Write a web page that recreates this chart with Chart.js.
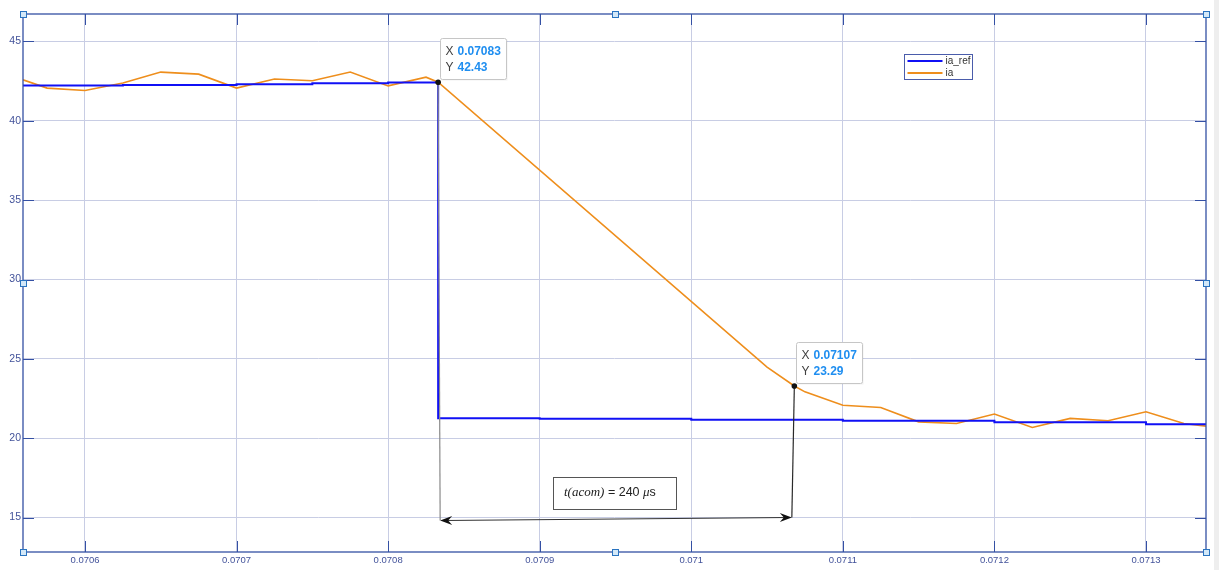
<!DOCTYPE html>
<html>
<head>
<meta charset="utf-8">
<script src="https://cdn.jsdelivr.net/npm/chart.js@4.4.1/dist/chart.umd.min.js"></script>
<style>
  html, body { margin: 0; padding: 0; background: #ffffff; }
  #wrap { position: relative; width: 1219px; height: 570px; }
</style>
</head>
<body>
<div id="wrap"><canvas id="c" width="1219" height="570"></canvas></div>
<script>
// Phase-a current reference (stepped) — time [s], current [A]
const timeRef = [0.0705591, 0.070625, 0.0707, 0.07075, 0.0708, 0.070833, 0.0709, 0.071, 0.0711, 0.0712, 0.0713, 0.0713396];
const iaRef   = [42.22, 42.26, 42.31, 42.36, 42.41, 21.25, 21.22, 21.17, 21.10, 21.00, 20.88, 20.82];

// Measured phase-a current — time [s], current [A]
const timeMeas = [0.0705591, 0.070575, 0.0706, 0.070625, 0.07065, 0.070675, 0.0707, 0.070725, 0.07075, 0.070775,
                  0.0708, 0.070825, 0.070833, 0.07105, 0.071068, 0.071075, 0.0711, 0.071125, 0.07115, 0.071175,
                  0.0712, 0.071225, 0.07125, 0.071275, 0.0713, 0.071325, 0.0713396];
const iaMeas   = [42.58, 42.06, 41.91, 42.38, 43.07, 42.94, 42.06, 42.63, 42.52, 43.07,
                  42.20, 42.75, 42.43, 24.48, 23.29, 22.92, 22.08, 21.94, 21.03, 20.93,
                  21.52, 20.68, 21.25, 21.10, 21.67, 20.93, 20.76];

// Data tips sit on samples of the measured current
const tipIndices = [12, 14];

const seriesNames = ['ia_ref', 'ia'];
const xTickValues = [0.0706, 0.0707, 0.0708, 0.0709, 0.071, 0.0711, 0.0712, 0.0713];
const xTickLabels = ['0.0706', '0.0707', '0.0708', '0.0709', '0.071', '0.0711', '0.0712', '0.0713'];
const yTickValues = [15, 20, 25, 30, 35, 40, 45];
const yTickLabels = ['15', '20', '25', '30', '35', '40', '45'];

const X_MIN = 0.0705591, X_MAX = 0.0713396;
const Y_MIN = 12.83, Y_MAX = 46.73;

const AXIS_COLOR = '#3450a4';
const GRID_COLOR = '#c8cde4';
const TICK_TEXT = '#42529a';
const SANS = '"Liberation Sans", Arial, Helvetica, sans-serif';
const SERIF = '"Liberation Serif", "Times New Roman", serif';

function toPoints(xs, ys) { return xs.map((t, i) => ({ x: t, y: ys[i] })); }

function arrowHead(ctx, tx, ty, dir) {
  const L = 12, W = 4.5, notch = 4;
  ctx.beginPath();
  ctx.moveTo(tx, ty);
  ctx.lineTo(tx - dir * L, ty - W);
  ctx.lineTo(tx - dir * (L - notch), ty);
  ctx.lineTo(tx - dir * L, ty + W);
  ctx.closePath();
  ctx.fill();
}

function seg(ctx, x1, y1, x2, y2) {
  ctx.beginPath(); ctx.moveTo(x1, y1); ctx.lineTo(x2, y2); ctx.stroke();
}

const decor = {
  id: 'decor',
  afterDatasetsDraw(chart) {
    const { ctx, chartArea: a, scales: { x, y } } = chart;
    ctx.save();

    // inward tick marks on all four sides
    ctx.strokeStyle = AXIS_COLOR;
    ctx.lineWidth = 1;
    const tl = 11;
    xTickValues.forEach(v => {
      const px = Math.round(x.getPixelForValue(v)) + 0.5;
      seg(ctx, px, a.bottom, px, a.bottom - tl);
      seg(ctx, px, a.top, px, a.top + tl);
    });
    yTickValues.forEach(v => {
      const py = Math.round(y.getPixelForValue(v)) + 0.5;
      seg(ctx, a.left, py, a.left + tl, py);
      seg(ctx, a.right, py, a.right - tl, py);
    });

    // axes box
    ctx.lineWidth = 1.3;
    ctx.strokeRect(a.left, a.top, a.right - a.left, a.bottom - a.top);

    // commutation interval marker
    const ms = chart.getDatasetMeta(1).data;
    const p1 = ms[tipIndices[0]], p2 = ms[tipIndices[1]];
    const yArrL = 520.5, yArrR = 517.5;
    ctx.lineWidth = 1.2;
    ctx.strokeStyle = '#8a8a8a';
    seg(ctx, p1.x, p1.y, p1.x + 2, yArrL);
    ctx.strokeStyle = '#2a2a2a';
    seg(ctx, p2.x, p2.y, p2.x - 2.5, yArrR);
    ctx.strokeStyle = '#333333';
    seg(ctx, p1.x + 6, yArrL, p2.x - 6, yArrR);
    ctx.fillStyle = '#111111';
    arrowHead(ctx, p1.x + 2, yArrL, -1);
    arrowHead(ctx, p2.x - 2.5, yArrR, 1);

    // annotation text box
    ctx.fillStyle = '#ffffff';
    ctx.fillRect(553.5, 477.5, 123, 32);
    ctx.strokeStyle = '#555555';
    ctx.lineWidth = 1;
    ctx.strokeRect(553.5, 477.5, 123, 32);
    ctx.fillStyle = '#222222';
    ctx.textBaseline = 'alphabetic';
    ctx.textAlign = 'left';
    let tx = 564;
    const by = 496;
    ctx.font = 'italic 13px ' + SERIF;
    const part1 = 't(acom)';
    ctx.fillText(part1, tx, by); tx += ctx.measureText(part1).width;
    ctx.font = '12.5px ' + SANS;
    const part2 = ' = 240 ';
    ctx.fillText(part2, tx, by); tx += ctx.measureText(part2).width;
    ctx.font = 'italic 13px ' + SERIF;
    ctx.fillText('\u03bc', tx, by); tx += ctx.measureText('\u03bc').width;
    ctx.font = '12.5px ' + SANS;
    ctx.fillText('s', tx, by);

    // data tips
    const ds = chart.data.datasets[1].data;
    tipIndices.forEach(idx => {
      const p = ms[idx];
      const bx = Math.round(p.x) + 2.5, bTop = Math.round(p.y) - 43.5, bw = 66, bh = 41;
      ctx.fillStyle = 'rgba(0,0,0,0.06)';
      ctx.fillRect(bx + 1, bTop + 1, bw, bh);
      ctx.fillStyle = '#ffffff';
      ctx.strokeStyle = '#c6c6c6';
      ctx.lineWidth = 1;
      ctx.beginPath();
      ctx.roundRect(bx, bTop, bw, bh, 2);
      ctx.fill(); ctx.stroke();
      ctx.textBaseline = 'middle';
      ctx.font = '12px ' + SANS;
      ctx.fillStyle = '#404040';
      ctx.fillText('X', bx + 5, bTop + 13.5);
      ctx.fillText('Y', bx + 5, bTop + 29.5);
      ctx.font = 'bold 12px ' + SANS;
      ctx.fillStyle = '#1f8ef0';
      ctx.fillText(ds[idx].x.toFixed(5), bx + 17, bTop + 13.5);
      ctx.fillText(ds[idx].y.toFixed(2), bx + 17, bTop + 29.5);
      ctx.fillStyle = '#111111';
      ctx.beginPath(); ctx.arc(p.x, p.y, 2.8, 0, Math.PI * 2); ctx.fill();
    });

    // legend
    const lx = 904.5, ly = 54.5, lw = 68, lh = 25;
    ctx.fillStyle = '#ffffff';
    ctx.fillRect(lx, ly, lw, lh);
    ctx.strokeStyle = '#4a5cab';
    ctx.lineWidth = 1;
    ctx.strokeRect(lx, ly, lw, lh);
    chart.data.datasets.forEach((d, i) => {
      const yy = ly + 6.5 + i * 12;
      ctx.strokeStyle = d.borderColor;
      ctx.lineWidth = 2;
      seg(ctx, lx + 3, yy, lx + 38, yy);
      ctx.fillStyle = '#333333';
      ctx.font = '10px ' + SANS;
      ctx.textBaseline = 'middle';
      ctx.fillText(d.label, lx + 41, yy);
    });

    // selection handles on the axes box
    const hx = [a.left, (a.left + a.right) / 2, a.right];
    const hy = [a.top, (a.top + a.bottom) / 2, a.bottom];
    ctx.lineWidth = 1;
    hx.forEach((px, i) => hy.forEach((py, j) => {
      if (i === 1 && j === 1) return;
      ctx.fillStyle = '#d3e8f8';
      ctx.strokeStyle = '#2a74c0';
      ctx.fillRect(Math.round(px) - 3, Math.round(py) - 3, 6, 6);
      ctx.strokeRect(Math.round(px) - 3 + 0.5, Math.round(py) - 3 + 0.5, 6, 6);
    }));

    // window edge strip
    ctx.fillStyle = '#eeeeee';
    ctx.fillRect(1214, 0, 5, 570);

    ctx.restore();
  }
};

new Chart(document.getElementById('c'), {
  type: 'line',
  data: {
    datasets: [
      {
        label: seriesNames[0],
        data: toPoints(timeRef, iaRef),
        borderColor: '#1010f5',
        borderWidth: 2,
        stepped: 'before',
        pointRadius: 0,
        fill: false
      },
      {
        label: seriesNames[1],
        data: toPoints(timeMeas, iaMeas),
        borderColor: '#ee8e1c',
        borderWidth: 1.6,
        tension: 0,
        pointRadius: 0,
        fill: false
      }
    ]
  },
  options: {
    responsive: false,
    animation: false,
    events: [],
    layout: { padding: { top: 14, right: 13, left: 0, bottom: 0 } },
    plugins: { legend: { display: false }, tooltip: { enabled: false } },
    scales: {
      x: {
        type: 'linear',
        min: X_MIN,
        max: X_MAX,
        afterBuildTicks: s => { s.ticks = xTickValues.map(v => ({ value: v })); },
        afterFit: s => { s.height = 18; },
        border: { display: false },
        grid: { color: GRID_COLOR, lineWidth: 1, drawTicks: false },
        ticks: {
          autoSkip: false, maxRotation: 0, padding: 3,
          color: TICK_TEXT,
          font: { family: SANS, size: 9.5 },
          callback: (v, i) => xTickLabels[i]
        }
      },
      y: {
        type: 'linear',
        min: Y_MIN,
        max: Y_MAX,
        afterBuildTicks: s => { s.ticks = yTickValues.map(v => ({ value: v })); },
        afterFit: s => { s.width = 23; },
        border: { display: false },
        grid: { color: GRID_COLOR, lineWidth: 1, drawTicks: false },
        ticks: {
          autoSkip: false, padding: 2,
          color: TICK_TEXT,
          font: { family: SANS, size: 10.5 },
          callback: (v, i) => yTickLabels[i]
        }
      }
    }
  },
  plugins: [decor]
});
</script>
</body>
</html>
